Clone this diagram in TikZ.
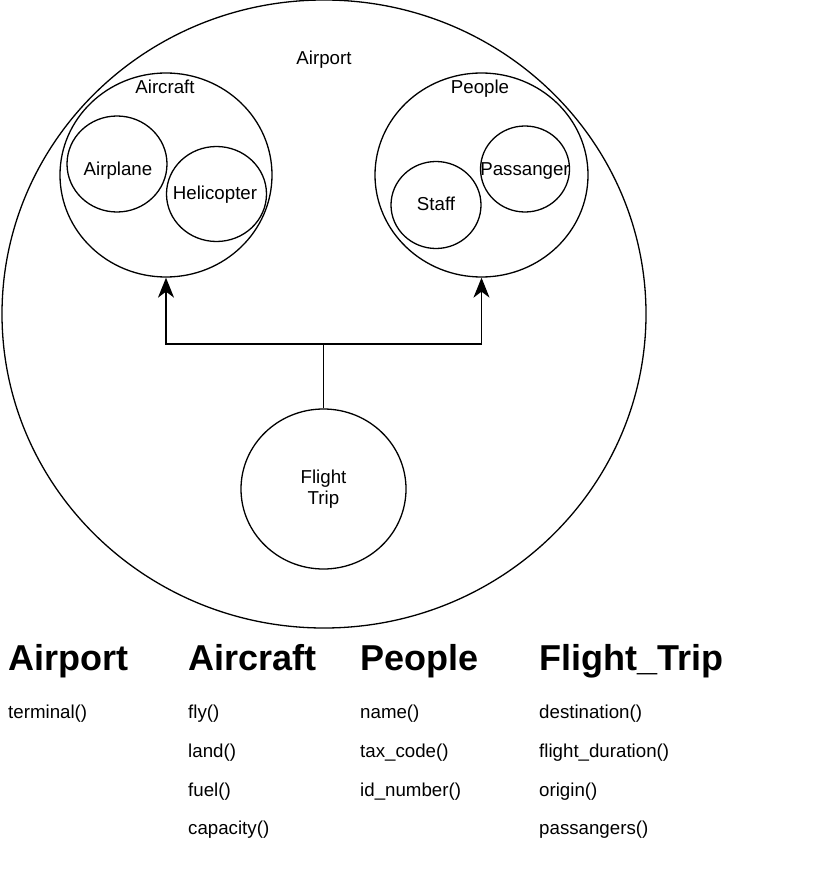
\documentclass[tikz,border=0pt]{standalone}
\usepackage{fontspec}
\setmainfont{Liberation Sans}
\usetikzlibrary{shapes.geometric,arrows.meta}
\begin{document}
\begin{tikzpicture}[x=1pt,y=-1pt,
  oval/.style={draw,ellipse,line width=1.3pt,inner sep=0pt},
  lbl/.style={font=\fontsize{18.7}{20.5}\selectfont,inner sep=0pt},
  heading/.style={font=\fontsize{36}{40}\selectfont\bfseries,anchor=base west,inner sep=0pt},
  meth/.style={font=\fontsize{18.7}{20}\selectfont,anchor=base west,inner sep=0pt},
  link/.style={line width=1.4pt},
  arrowlink/.style={line width=1.4pt,-{Stealth[length=20pt,width=16pt,inset=6pt]}}]
\useasboundingbox (0,0) rectangle (818,877);
% ovals
\node[oval,minimum width=644pt,minimum height=628pt] (airport) at (324,314) {};
\node[lbl,anchor=base] (airportlbl) at (324,65) {Airport};
\node[oval,minimum width=212pt,minimum height=204pt] (aircraft) at (166,175) {};
\node[lbl,anchor=base] (aircraftlbl) at (165,94) {Aircraft};
\node[oval,minimum width=213pt,minimum height=204pt] (people) at (481.5,175) {};
\node[lbl,anchor=base] (peoplelbl) at (480,94) {People};
\node[oval,minimum width=100pt,minimum height=96pt] (airplane) at (117,164) {};
\node[lbl,anchor=base] (airplanelbl) at (118,176) {Airplane};
\node[oval,minimum width=100pt,minimum height=95pt] (heli) at (216.5,194) {};
\node[lbl,anchor=base] (helilbl) at (215,200) {Helicopter};
\node[oval,minimum width=90pt,minimum height=87pt] (staff) at (436,205) {};
\node[lbl,anchor=base] (stafflbl) at (436,211) {Staff};
\node[oval,minimum width=89pt,minimum height=86pt] (pass) at (525,169) {};
\node[lbl,anchor=base] (passlbl) at (525,176) {Passanger};
\node[oval,minimum width=165pt,minimum height=160pt] (trip) at (323.5,489) {};
\node[lbl,align=center] (triplbl) at (323.5,489) {Flight\\Trip};
% connectors
\coordinate (split) at (323.5,344);
\draw[link] (trip.north) -- (split);
\draw[arrowlink] (split) -| (aircraft.south);
\draw[arrowlink] (split) -| (people.south);
% text columns
\node[heading] (h1) at (8,670) {Airport};
\node[heading] (h2) at (188,670) {Aircraft};
\node[heading] (h3) at (360,670) {People};
\node[heading] (h4) at (539,670) {Flight\_Trip};
\node[meth] (m11) at (8,718) {terminal()};
\node[meth] (m21) at (188,718) {fly()};
\node[meth] (m22) at (188,757) {land()};
\node[meth] (m23) at (188,796) {fuel()};
\node[meth] (m24) at (188,834) {capacity()};
\node[meth] (m31) at (360,718) {name()};
\node[meth] (m32) at (360,757) {tax\_code()};
\node[meth] (m33) at (360,796) {id\_number()};
\node[meth] (m41) at (539,718) {destination()};
\node[meth] (m42) at (539,757) {flight\_duration()};
\node[meth] (m43) at (539,796) {origin()};
\node[meth] (m44) at (539,834) {passangers()};
\end{tikzpicture}
\end{document}
